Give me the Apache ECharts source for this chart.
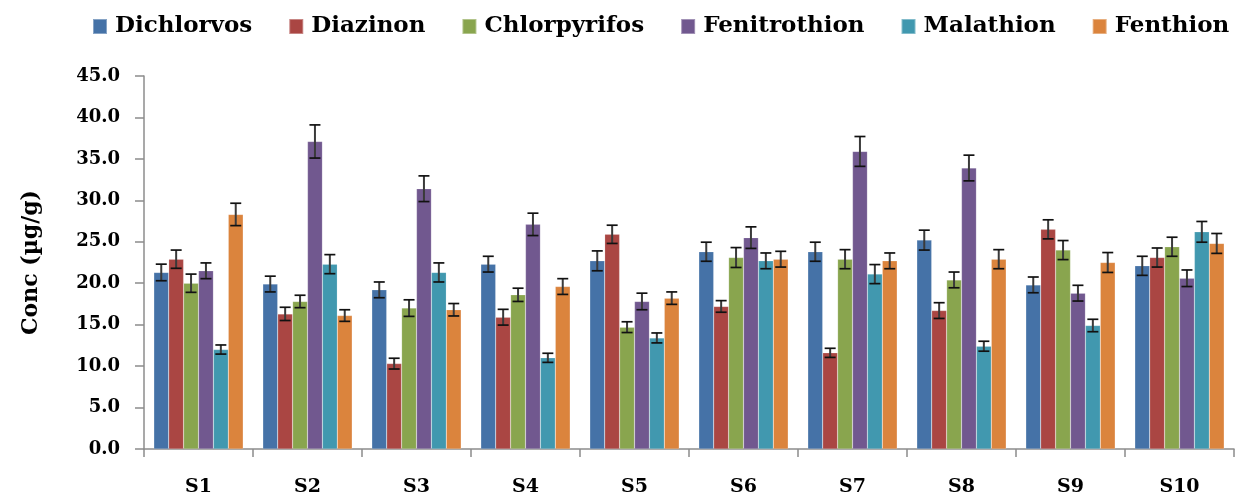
<!DOCTYPE html>
<html><head><meta charset="utf-8">
<script src="https://cdn.jsdelivr.net/npm/echarts@6/dist/echarts.min.js"></script>
<style>html,body{margin:0;padding:0;background:#fff}#c{width:1238px;height:499px}</style>
</head><body><div id="c"></div>
<script>
const categories = ['S1','S2','S3','S4','S5','S6','S7','S8','S9','S10'];
const seriesNames = ['Dichlorvos','Diazinon','Chlorpyrifos','Fenitrothion','Malathion','Fenthion'];
const dichlorvos   = [21.3, 19.9, 19.2, 22.3, 22.7, 23.8, 23.8, 25.2, 19.8, 22.1];
const diazinon     = [22.9, 16.3, 10.3, 15.9, 25.9, 17.2, 11.6, 16.7, 26.5, 23.1];
const chlorpyrifos = [20.0, 17.8, 17.0, 18.6, 14.7, 23.1, 22.9, 20.4, 24.0, 24.4];
const fenitrothion = [21.5, 37.1, 31.4, 27.1, 17.8, 25.5, 35.9, 33.9, 18.8, 20.6];
const malathion    = [12.0, 22.3, 21.3, 11.0, 13.4, 22.7, 21.1, 12.4, 14.9, 26.2];
const fenthion     = [28.3, 16.1, 16.8, 19.6, 18.2, 22.9, 22.7, 22.9, 22.5, 24.8];
const errDichlorvos   = [1.0, 0.95, 0.95, 0.95, 1.2, 1.15, 1.15, 1.2, 0.95, 1.15];
const errDiazinon     = [1.1, 0.8, 0.65, 0.95, 1.1, 0.7, 0.55, 0.95, 1.15, 1.15];
const errChlorpyrifos = [1.1, 0.75, 1.0, 0.8, 0.65, 1.2, 1.15, 0.95, 1.15, 1.15];
const errFenitrothion = [0.95, 2.0, 1.55, 1.35, 1.0, 1.3, 1.8, 1.55, 0.95, 1.0];
const errMalathion    = [0.55, 1.15, 1.15, 0.55, 0.6, 0.95, 1.15, 0.6, 0.75, 1.25];
const errFenthion     = [1.35, 0.7, 0.75, 0.95, 0.75, 0.95, 0.95, 1.15, 1.2, 1.2];
const yTicks = [0, 5, 10, 15, 20, 25, 30, 35, 40, 45];

const values = [dichlorvos, diazinon, chlorpyrifos, fenitrothion, malathion, fenthion];
const errors = [errDichlorvos, errDiazinon, errChlorpyrifos, errFenitrothion, errMalathion, errFenthion];
const colors = ['#4572A7','#AA4643','#89A54E','#71588F','#4198AF','#DB843D'];
const catGap = 0.18;
const font = '"DejaVu Serif",serif';

const series = [];
seriesNames.forEach((name, i) => {
  series.push({
    name: name, type: 'bar', data: values[i],
    barGap: '0%', barCategoryGap: (catGap*100)+'%',
    itemStyle: { color: colors[i], borderColor: 'rgba(255,255,255,0.35)', borderWidth: 0.5 },
    emphasis: { disabled: true }, z: 2
  });
});
seriesNames.forEach((name, i) => {
  series.push({
    name: name + ' err', type: 'custom', z: 5,
    encode: { x: 0, y: 1 },
    data: categories.map((c, k) => [k, values[i][k], errors[i][k]]),
    renderItem: function (params, api) {
      const cat = api.value(0), v = api.value(1), e = api.value(2);
      const band = api.size([1, 0])[0];
      const groupW = band * (1 - catGap);
      const bw = groupW / seriesNames.length;
      const x = api.coord([cat, v])[0] - groupW / 2 + bw * (i + 0.5);
      const yT = api.coord([cat, v + e])[1];
      const yB = api.coord([cat, v - e])[1];
      const cap = 5.5;
      const st = { stroke: '#111', lineWidth: 1.7 };
      return { type: 'group', children: [
        { type: 'line', shape: { x1: x, y1: yT, x2: x, y2: yB }, style: { stroke: '#3a3a3a', lineWidth: 2 } },
        { type: 'line', shape: { x1: x - cap, y1: yT, x2: x + cap, y2: yT }, style: st },
        { type: 'line', shape: { x1: x - cap, y1: yB, x2: x + cap, y2: yB }, style: st }
      ]};
    }
  });
});

const chart = echarts.init(document.getElementById('c'), null, { renderer: 'canvas' });
chart.setOption({
  animation: false,
  backgroundColor: '#fff',
  legend: {
    data: seriesNames, top: 15, left: 92, width: 1146, padding: 0,
    itemWidth: 14, itemHeight: 15, itemGap: 36,
    icon: 'rect',
    textStyle: { fontFamily: font, fontWeight: 'bold', fontSize: 23, color: '#000', padding: [0, 0, 0, 3] }
  },
  grid: { left: 144, right: 4, top: 76, bottom: 50, containLabel: false },
  xAxis: {
    type: 'category', data: categories,
    axisLine: { lineStyle: { color: '#8c8c8c', width: 1.5 } },
    axisTick: { show: true, length: 8, lineStyle: { color: '#8c8c8c', width: 1.5 } },
    axisLabel: { fontFamily: font, fontWeight: 'bold', fontSize: 19, color: '#000', margin: 29 }
  },
  yAxis: {
    type: 'value', min: 0, max: 45, interval: 5,
    name: 'Conc (µg/g)', nameLocation: 'middle', nameGap: 102, nameRotate: 90,
    nameTextStyle: { fontFamily: font, fontWeight: 'bold', fontSize: 22, color: '#000' },
    axisLine: { show: true, lineStyle: { color: '#8c8c8c', width: 1.5 } },
    axisTick: { show: true, length: 9, lineStyle: { color: '#8c8c8c', width: 1.5 } },
    splitLine: { show: false },
    axisLabel: { fontFamily: font, fontWeight: 'bold', fontSize: 18, color: '#000', margin: 24,
      formatter: v => yTicks.includes(v) ? v.toFixed(1) : '' }
  },
  series: series
});
</script></body></html>
